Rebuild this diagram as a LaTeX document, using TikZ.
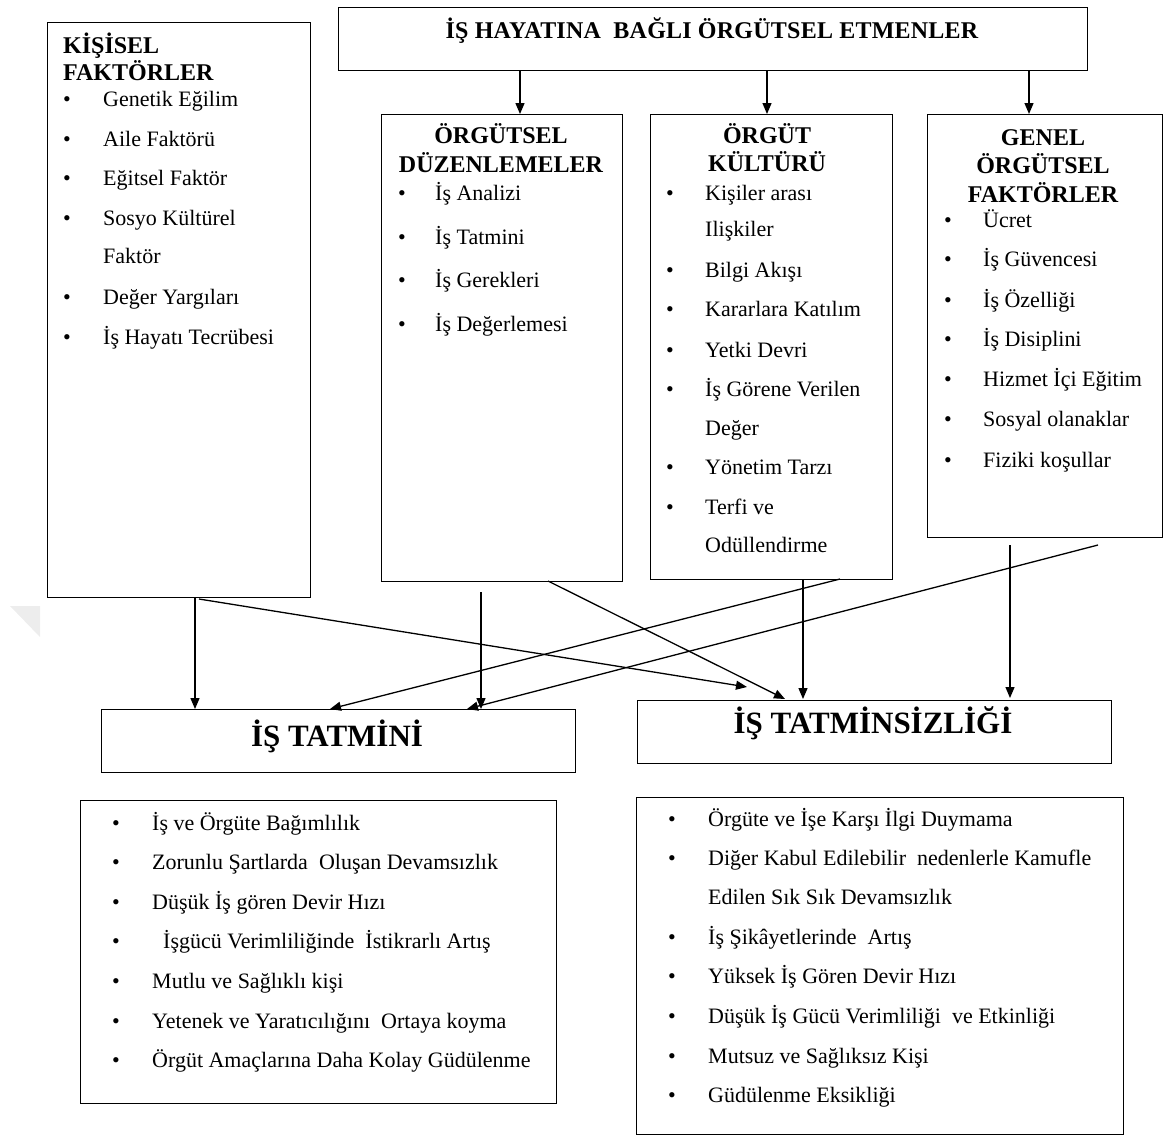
\documentclass[tikz,border=0pt]{standalone}
\usepackage{fontspec}
\setmainfont{Liberation Serif}
\usetikzlibrary{arrows.meta}
\newcommand\bitem[5]{\node[txt] (#1b) at (#2,#4) {\textbullet}; \node[txt] (#1) at (#3,#4) {#5};}
\begin{document}
\begin{tikzpicture}[x=1pt,y=-1pt,
  box/.style={draw, line width=1.3pt, inner sep=0pt, anchor=north west},
  txt/.style={anchor=base west, inner sep=0pt, font=\fontsize{22}{26}\selectfont},
  hd/.style={anchor=base, inner sep=0pt, font=\fontsize{24}{28}\selectfont\bfseries},
  hdl/.style={hd, anchor=base west},
  big/.style={anchor=base, inner sep=0pt, font=\fontsize{31}{36}\selectfont\bfseries},
  arr/.style={line width=1.3pt, -{Triangle[length=11pt,width=9pt]}},
  ln/.style={line width=1.3pt}]
\useasboundingbox (0,0) rectangle (1165,1136);
% faint watermark
\fill[black!7] (10,606) -- (40,606) -- (40,637) -- cycle;

% boxes
\node[box, minimum width=749pt, minimum height=63pt] (top) at (338,7) {};
\node[box, minimum width=263pt, minimum height=575pt] (kis) at (47,22) {};
\node[box, minimum width=241pt, minimum height=467pt] (duz) at (381,114) {};
\node[box, minimum width=242pt, minimum height=465pt] (kul) at (650,114) {};
\node[box, minimum width=235pt, minimum height=423pt] (gen) at (927,114) {};
\node[box, minimum width=474pt, minimum height=63pt] (tat) at (101,709) {};
\node[box, minimum width=474pt, minimum height=63pt] (tsz) at (637,700) {};
\node[box, minimum width=476pt, minimum height=303pt] (sonl) at (80,800) {};
\node[box, minimum width=487pt, minimum height=337pt] (sonr) at (636,797) {};

% titles
\node[hd, font=\fontsize{24}{28}\selectfont\bfseries\addfontfeature{LetterSpace=1}] (ttop) at (712,38) {İŞ HAYATINA\ \ BAĞLI ÖRGÜTSEL ETMENLER};
\node[hdl] (h1) at (63,53) {KİŞİSEL};
\node[hdl] (h2) at (63,80) {FAKTÖRLER};
\node[hd] (h3) at (501,143) {ÖRGÜTSEL};
\node[hd] (h4) at (501,172) {DÜZENLEMELER};
\node[hd] (h5) at (767,143) {ÖRGÜT};
\node[hd] (h6) at (767,171) {KÜLTÜRÜ};
\node[hd] (h7) at (1043,145) {GENEL};
\node[hd] (h8) at (1043,173) {ÖRGÜTSEL};
\node[hd] (h9) at (1043,202) {FAKTÖRLER};
\node[big] (ttat) at (337,746) {İŞ TATMİNİ};
\node[big] (ttsz) at (873,733) {İŞ TATMİNSİZLİĞİ};

% KISISEL items
\bitem{k1}{63}{103}{106}{Genetik Eğilim}
\bitem{k2}{63}{103}{146}{Aile Faktörü}
\bitem{k3}{63}{103}{185}{Eğitsel Faktör}
\bitem{k4}{63}{103}{225}{Sosyo Kültürel}
\node[txt] (k4x) at (103,263) {Faktör};
\bitem{k5}{63}{103}{304}{Değer Yargıları}
\bitem{k6}{63}{103}{344}{İş Hayatı Tecrübesi}

% DUZENLEMELER items
\bitem{d1}{398}{435}{200}{İş Analizi}
\bitem{d2}{398}{435}{244}{İş Tatmini}
\bitem{d3}{398}{435}{287}{İş Gerekleri}
\bitem{d4}{398}{435}{331}{İş Değerlemesi}

% KULTUR items
\bitem{c1}{666}{705}{200}{Kişiler\ arası}
\node[txt] (c1x) at (705,236) {Ilişkiler};
\bitem{c2}{666}{705}{277}{Bilgi Akışı}
\bitem{c3}{666}{705}{316}{Kararlara\ Katılım}
\bitem{c4}{666}{705}{357}{Yetki Devri}
\bitem{c5}{666}{705}{396}{İş Görene Verilen}
\node[txt] (c5x) at (705,435) {Değer};
\bitem{c6}{666}{705}{474}{Yönetim Tarzı}
\bitem{c7}{666}{705}{514}{Terfi ve}
\node[txt] (c7x) at (705,552) {Odüllendirme};

% GENEL items
\bitem{g1}{944}{983}{227}{Ücret}
\bitem{g2}{944}{983}{266}{İş Güvencesi}
\bitem{g3}{944}{983}{307}{İş Özelliği}
\bitem{g4}{944}{983}{346}{İş Disiplini}
\bitem{g5}{944}{983}{386}{Hizmet İçi Eğitim}
\bitem{g6}{944}{983}{426}{Sosyal olanaklar}
\bitem{g7}{944}{983}{467}{Fiziki koşullar}

% bottom left items
\bitem{l1}{112}{152}{830}{İş ve Örgüte Bağımlılık}
\bitem{l2}{112}{152}{869}{Zorunlu Şartlarda\ \ Oluşan Devamsızlık}
\bitem{l3}{112}{152}{909}{Düşük İş gören Devir Hızı}
\bitem{l4}{112}{163}{948}{İşgücü Verimliliğinde\ \ İstikrarlı\ Artış}
\bitem{l5}{112}{152}{988}{Mutlu ve Sağlıklı\ kişi}
\bitem{l6}{112}{152}{1028}{Yetenek ve Yaratıcılığını\ \ Ortaya koyma}
\bitem{l7}{112}{152}{1067}{Örgüt Amaçlarına\ Daha Kolay Güdülenme}

% bottom right items
\bitem{r1}{668}{708}{826}{Örgüte ve İşe Karşı İlgi Duymama}
\bitem{r2}{668}{708}{865}{Diğer Kabul Edilebilir\ \ nedenlerle Kamufle}
\node[txt] (r2x) at (708,904) {Edilen Sık Sık Devamsızlık};
\bitem{r3}{668}{708}{944}{İş Şikâyetlerinde\ \ Artış}
\bitem{r4}{668}{708}{983}{Yüksek İş Gören Devir Hızı}
\bitem{r5}{668}{708}{1023}{Düşük İş Gücü Verimliliği\ \ ve Etkinliği}
\bitem{r6}{668}{708}{1063}{Mutsuz ve Sağlıksız Kişi}
\bitem{r7}{668}{708}{1102}{Güdülenme Eksikliği}

% connector coordinates
\coordinate (x1) at (520,0);
\coordinate (x2) at (767,0);
\coordinate (x3) at (1029,0);
\coordinate (kA) at (195,597);
\coordinate (kB) at (199,599);
\coordinate (kBe) at (747,687);
\coordinate (dA) at (481,592);
\coordinate (dB) at (548,581);
\coordinate (dBe) at (785,699);
\coordinate (cA) at (840,579);
\coordinate (cAe) at (330,709);
\coordinate (cB) at (803,579);
\coordinate (gA) at (1098,545);
\coordinate (gAe) at (467,709);
\coordinate (gB) at (1010,545);

% arrows from top
\draw[arr] (top.south -| x1) -- (duz.north -| x1);
\draw[arr] (top.south -| x2) -- (kul.north -| x2);
\draw[arr] (top.south -| x3) -- (gen.north -| x3);

% arrows to results
\draw[arr] (kA) -- (tat.north -| kA);
\draw[arr] (kB) -- (kBe);
\draw[arr] (dA) -- (tat.north -| dA);
\draw[arr] (dB) -- (dBe);
\draw[arr] (cA) -- (cAe);
\draw[arr] (cB) -- (cB |- 0,699);
\draw[arr] (gA) -- (gAe);
\draw[arr] (gB) -- (gB |- 0,698);
\end{tikzpicture}
\end{document}
